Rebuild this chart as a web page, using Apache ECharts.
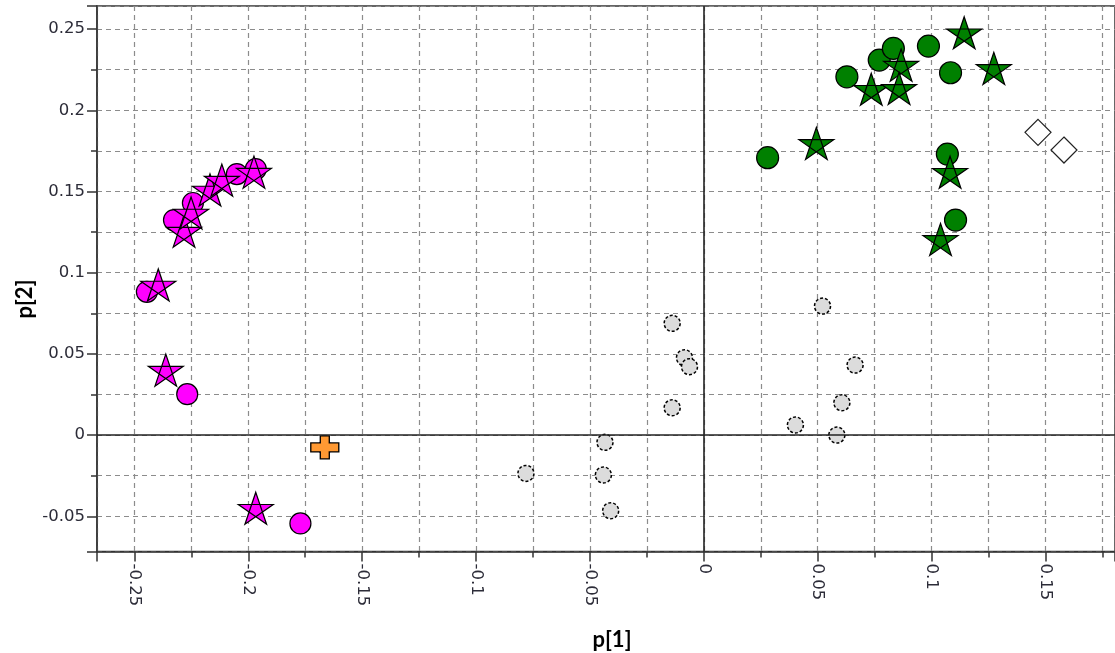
<!DOCTYPE html>
<html><head><meta charset="utf-8">
<script src="https://cdn.jsdelivr.net/npm/echarts@6/dist/echarts.min.js"></script>
<style>html,body{margin:0;padding:0;background:#fff}#c{width:1115px;height:653px}</style>
</head><body><div id="c"></div>
<script>
const xTitle = 'p[1]';
const yTitle = 'p[2]';
const xRange = [-0.2664, 0.1805];
const yRange = [-0.0717, 0.2642];

const magentaCircles = [[-0.2326,0.1324],[-0.2243,0.1429],[-0.2050,0.1607],[-0.1967,0.1638],[-0.2445,0.0882],[-0.2268,0.0252],[-0.1771,-0.0544]];
const magentaStars = [[-0.2282,0.1256],[-0.2251,0.1367],[-0.2168,0.1509],[-0.2116,0.1570],[-0.1975,0.1619],[-0.2395,0.0924],[-0.2362,0.0400],[-0.1967,-0.0451]];
const orangeCross = [[-0.1664,-0.0076]];
const grayCircles = [[-0.0139,0.0688],[-0.0085,0.0476],[-0.0063,0.0421],[-0.0139,0.0168],[-0.0434,-0.0045],[-0.0781,-0.0236],[-0.0441,-0.0246],[-0.0409,-0.0466],[0.0521,0.0794],[0.0664,0.0431],[0.0606,0.0199],[0.0402,0.0062],[0.0584,0.0000]];
const greenCircles = [[0.0280,0.1708],[0.0628,0.2206],[0.0770,0.2309],[0.0832,0.2381],[0.0986,0.2395],[0.1083,0.2231],[0.1069,0.1730],[0.1105,0.1324]];
const greenStars = [[0.0494,0.1796],[0.0735,0.2129],[0.0866,0.2278],[0.0857,0.2135],[0.1143,0.2477],[0.1273,0.2258],[0.1081,0.1618],[0.1039,0.1205]];
const whiteDiamonds = [[0.1467,0.1864],[0.1581,0.1755]];

const STAR = 'path://M50,0L79.39,90.45L2.45,34.55L97.55,34.55L20.61,90.45Z';
const CROSS = 'path://M9.5,0H18.5V7H28V16H18.5V23H9.5V16H0V7H9.5Z';
const labelFont = 'DejaVu Sans';
const gridLine = {show:true, lineStyle:{color:'#8c8c8c', width:1.2, type:[5,4]}};

function fmt(v){
  const r = Math.round(v*20);
  if (Math.abs(v*20 - r) > 1e-6) return '';
  return String(+(r/20).toFixed(2));
}

const chart = echarts.init(document.getElementById('c'), null, {renderer:'canvas'});
chart.setOption({
  animation:false,
  backgroundColor:'#fff',
  grid:{left:97, top:6, right:-2, bottom:101.5, show:true, borderColor:'#333', borderWidth:1.5, backgroundColor:'transparent'},
  xAxis:{type:'value', min:xRange[0], max:xRange[1], splitNumber:9,
    axisLine:{show:true, onZero:false, lineStyle:{color:'#333', width:1.5}},
    axisTick:{show:true, length:10, lineStyle:{color:'#333', width:1.5}},
    minorTick:{show:true, splitNumber:2, length:6, lineStyle:{color:'#333', width:1.5}},
    splitLine:gridLine, minorSplitLine:gridLine,
    axisLabel:{rotate:-90, margin:12, fontFamily:labelFont, fontSize:16.5, color:'#2c2c38', showMinLabel:false, showMaxLabel:false, formatter:fmt}
  },
  yAxis:{type:'value', min:yRange[0], max:yRange[1], splitNumber:7,
    axisLine:{show:true, onZero:false, lineStyle:{color:'#333', width:1.5}},
    axisTick:{show:true, length:10, lineStyle:{color:'#333', width:1.5}},
    minorTick:{show:true, splitNumber:2, length:6, lineStyle:{color:'#333', width:1.5}},
    splitLine:gridLine, minorSplitLine:gridLine,
    axisLabel:{margin:12, fontFamily:labelFont, fontSize:16.5, color:'#2c2c38', showMinLabel:false, showMaxLabel:false, formatter:fmt}
  },
  graphic:[
    {type:'text', x:612, y:640, style:{text:xTitle, font:'bold 22px Lato', fill:'#000', align:'center', verticalAlign:'middle'}},
    {type:'text', x:25, y:299, rotation:Math.PI/2, style:{text:yTitle, font:'bold 22px Lato', fill:'#000', align:'center', verticalAlign:'middle'}}
  ],
  series:[
    {type:'scatter', data:[], z:1, silent:true,
      markLine:{silent:true, symbol:'none', label:{show:false}, lineStyle:{color:'#222', width:1.6, type:'solid'},
        data:[{xAxis:0},{yAxis:0}]}},
    {type:'scatter', z:3, data:grayCircles, symbol:'circle', symbolSize:16,
      itemStyle:{color:'#dcdcdc', borderColor:'#000', borderWidth:1.5, borderType:[3,2], opacity:1}},
    {type:'scatter', z:3, data:orangeCross, symbol:'circle', symbolSize:15,
      itemStyle:{color:'#3b4bff', opacity:1}},
    {type:'scatter', z:3, data:orangeCross, symbol:CROSS, symbolSize:[28,23],
      itemStyle:{color:'#ff9933', borderColor:'#000', borderWidth:1.2, opacity:1}},
    {type:'scatter', z:3, data:magentaCircles, symbol:'circle', symbolSize:21,
      itemStyle:{color:'#ff00ff', borderColor:'#000', borderWidth:1.2, opacity:1}},
    {type:'scatter', z:3, data:magentaStars, symbol:STAR, symbolSize:[35,32],
      itemStyle:{color:'#ff00ff', borderColor:'#000', borderWidth:1.2, opacity:1}},
    {type:'scatter', z:3, data:greenCircles, symbol:'circle', symbolSize:22,
      itemStyle:{color:'#008000', borderColor:'#000', borderWidth:1.2, opacity:1}},
    {type:'scatter', z:3, data:greenStars, symbol:STAR, symbolSize:[35,32],
      itemStyle:{color:'#008000', borderColor:'#000', borderWidth:1.2, opacity:1}},
    {type:'scatter', z:3, data:whiteDiamonds, symbol:'diamond', symbolSize:26,
      itemStyle:{color:'#fff', borderColor:'#222', borderWidth:1.2, opacity:1}}
  ]
});
</script></body></html>
